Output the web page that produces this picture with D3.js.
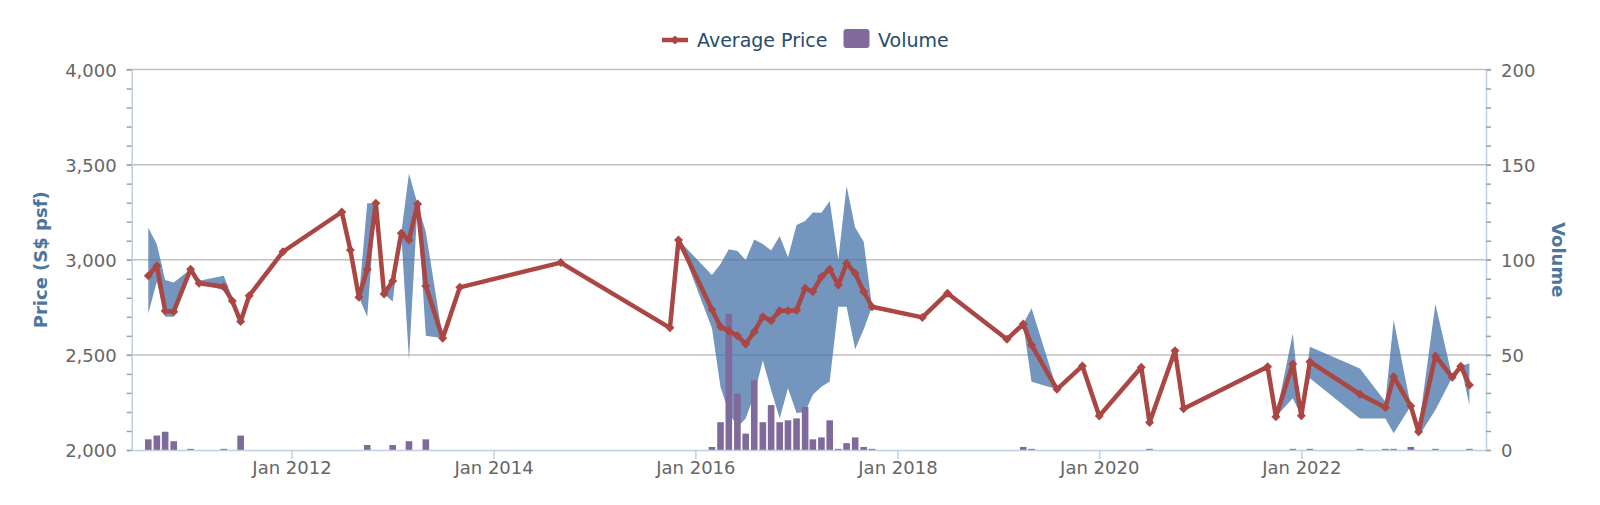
<!DOCTYPE html>
<html>
<head>
<meta charset="utf-8">
<script src="https://cdn.jsdelivr.net/npm/d3@7"></script>
<style>
  body { margin: 0; background: #fff; }
  svg text { font-family: "DejaVu Sans", Verdana, sans-serif; }
</style>
</head>
<body>
<svg id="chart" width="1600" height="505"></svg>
<script>
// Monthly price data (S$ psf)
const priceMonths = [
  "2010-08","2010-09","2010-10","2010-11","2011-01","2011-02","2011-05","2011-06","2011-07","2011-08",
  "2011-12","2012-07","2012-08","2012-09","2012-10","2012-11","2012-12","2013-01","2013-02","2013-03",
  "2013-04","2013-05","2013-07","2013-09","2014-09","2015-10","2015-11","2016-03","2016-04","2016-05",
  "2016-06","2016-07","2016-08","2016-09","2016-10","2016-11","2016-12","2017-01","2017-02","2017-03",
  "2017-04","2017-05","2017-06","2017-07","2017-08","2017-09","2017-10","2018-04","2018-07","2019-02",
  "2019-04","2019-05","2019-08","2019-11","2020-01","2020-06","2020-07","2020-10","2020-11","2021-09",
  "2021-10","2021-12","2022-01","2022-02","2022-08","2022-11","2022-12","2023-02","2023-03","2023-05",
  "2023-07","2023-08","2023-09"
];
const avgPrice = [
  2916,2969,2731,2727,2950,2876,2858,2783,2675,2811,
  3042,3251,3051,2803,2950,3297,2820,2888,3139,3104,
  3293,2862,2587,2855,2985,2642,3104,2739,2648,2625,
  2601,2557,2622,2701,2680,2732,2732,2735,2850,2832,
  2911,2950,2867,2981,2929,2832,2753,2697,2824,2582,
  2662,2552,2319,2442,2179,2435,2144,2522,2217,2438,
  2175,2452,2180,2464,2293,2223,2385,2231,2096,2494,
  2382,2440,2342
];
const lowPrice = [
  2718,2885,2700,2700,2935,2876,2840,2783,2675,2811,
  3042,3251,3051,2803,2700,3297,2820,2780,3139,2473,
  3293,2600,2587,2855,2985,2642,3104,2640,2330,2200,
  2120,2165,2290,2470,2315,2165,2325,2195,2200,2290,
  2333,2360,2753,2753,2530,2635,2753,2697,2824,2582,
  2662,2359,2319,2442,2179,2435,2130,2522,2217,2438,
  2175,2272,2180,2377,2166,2166,2088,2231,2070,2210,
  2382,2440,2237
];
const highPrice = [
  3168,3081,2894,2881,2950,2890,2916,2800,2675,2811,
  3042,3251,3051,2803,3297,3297,2820,2888,3139,3454,
  3293,3147,2587,2855,2985,2642,3104,2920,2978,3055,
  3046,2999,3107,3083,3048,3125,3013,3183,3204,3249,
  3247,3309,2999,3388,3169,3095,2753,2697,2824,2582,
  2662,2745,2319,2442,2179,2435,2144,2522,2217,2438,
  2175,2613,2180,2543,2429,2254,2683,2231,2110,2767,
  2382,2440,2456
];

// Monthly transaction volume
const volumeMonths = [
  "2010-08","2010-09","2010-10","2010-11","2011-01","2011-05","2011-07",
  "2012-10","2013-01","2013-03","2013-05",
  "2016-03","2016-04","2016-05","2016-06","2016-07","2016-08","2016-09","2016-10","2016-11","2016-12",
  "2017-01","2017-02","2017-03","2017-04","2017-05","2017-06","2017-07","2017-08","2017-09","2017-10",
  "2019-04","2019-05","2020-07","2021-12","2022-02","2022-08","2022-11","2022-12","2023-02","2023-05","2023-09"
];
const volumes = [
  6,8,10,5,1,1,8,
  3,3,5,6,
  2,15,72,30,9,37,15,24,15,16,
  17,23,6,7,16,1,4,7,2,1,
  2,1,1,1,1,1,1,1,2,1,1
];

// Axis ticks
const priceTicks = [2000, 2500, 3000, 3500, 4000];
const volumeTicks = [0, 50, 100, 150, 200];
const xTickMonths = ["2012-01","2014-01","2016-01","2018-01","2020-01","2022-01"];

const WIDTH = 1600;
const HEIGHT = 505;
const MARGIN = { left: 131.7, right: 114, top: 69.5, bottom: 55 };
const COLORS = { line: "#AA4643", range: "#4572A7", bar: "#80699B" };

const parseMonth = d3.timeParse("%Y-%m");

const prices = priceMonths.map((m, i) => ({
  date: parseMonth(m), avg: avgPrice[i], low: lowPrice[i], high: highPrice[i]
}));
const vols = volumeMonths.map((m, i) => ({ date: parseMonth(m), value: volumes[i] }));

const svg = d3.select("#chart");
const plotBottom = HEIGHT - MARGIN.bottom;
const plotRight = WIDTH - MARGIN.right;

// Scales
const x = d3.scaleTime()
  .domain([d3.timeDay.offset(prices[0].date, -60), d3.timeDay.offset(prices[prices.length - 1].date, 60)])
  .range([MARGIN.left, plotRight]);

const y = d3.scaleLinear()
  .domain([priceTicks[0], priceTicks[priceTicks.length - 1]])
  .range([plotBottom, MARGIN.top]);

const yVol = d3.scaleLinear()
  .domain([volumeTicks[0], volumeTicks[volumeTicks.length - 1]])
  .range([plotBottom, MARGIN.top]);

// Grid lines
svg.append("g").attr("class", "grid")
  .selectAll("line")
  .data(priceTicks.slice(1))
  .join("line")
    .attr("x1", MARGIN.left - 5)
    .attr("x2", plotRight + 5)
    .attr("y1", d => y(d))
    .attr("y2", d => y(d))
    .attr("stroke", "#C0C0C0")
    .attr("stroke-width", 1.5);

// Minor ticks on both value axes
const minorLeft = svg.append("g")
  .attr("transform", `translate(${MARGIN.left},0)`)
  .call(d3.axisLeft(y).ticks(20).tickSize(5).tickFormat(""));
const minorRight = svg.append("g")
  .attr("transform", `translate(${plotRight},0)`)
  .call(d3.axisRight(yVol).ticks(20).tickSize(5).tickFormat(""));
for (const g of [minorLeft, minorRight]) {
  g.select(".domain").attr("stroke", "#C0D0E0").attr("stroke-width", 1.5);
  g.selectAll(".tick line").attr("stroke", "#A0A0A0").attr("stroke-width", 1.5);
}

// Price range area
svg.append("path")
  .datum(prices)
  .attr("fill", COLORS.range)
  .attr("fill-opacity", 0.75)
  .attr("d", d3.area()
    .x(d => x(d.date))
    .y0(d => y(d.low))
    .y1(d => y(d.high)));

// Volume bars
const barWidth = 6.6;
svg.append("g")
  .selectAll("rect")
  .data(vols)
  .join("rect")
    .attr("x", d => x(d.date) - barWidth / 2)
    .attr("y", d => yVol(d.value) + 0.75)
    .attr("width", barWidth)
    .attr("height", d => Math.max(0.8, yVol(0) - yVol(d.value) - 0.75))
    .attr("fill", COLORS.bar);

// Average price line
svg.append("path")
  .datum(prices)
  .attr("fill", "none")
  .attr("stroke", COLORS.line)
  .attr("stroke-width", 4.5)
  .attr("stroke-linejoin", "round")
  .attr("d", d3.line().x(d => x(d.date)).y(d => y(d.avg)));

// Diamond markers
const diamond = {
  draw(context, size) {
    const r = Math.sqrt(size) / 2;
    context.moveTo(0, -r);
    context.lineTo(r, 0);
    context.lineTo(0, r);
    context.lineTo(-r, 0);
    context.closePath();
  }
};
svg.append("g")
  .selectAll("path")
  .data(prices)
  .join("path")
    .attr("transform", d => `translate(${x(d.date)},${y(d.avg)})`)
    .attr("d", d3.symbol(diamond, 81))
    .attr("fill", COLORS.line);

// X axis
const xAxis = svg.append("g")
  .attr("transform", `translate(0,${plotBottom})`)
  .call(d3.axisBottom(x)
    .tickValues(xTickMonths.map(parseMonth))
    .tickFormat(d3.timeFormat("%b %Y"))
    .tickSize(9)
    .tickSizeOuter(0)
    .tickPadding(2.5));
xAxis.select(".domain").attr("stroke", "#C0D0E0").attr("stroke-width", 1.5);
xAxis.selectAll(".tick line").attr("stroke", "#C0D0E0").attr("stroke-width", 1.5);
xAxis.selectAll("text").attr("fill", "#666").style("font-size", "18px");

// Value axis labels
const yLabels = svg.append("g")
  .attr("transform", `translate(${MARGIN.left},0)`)
  .call(d3.axisLeft(y).tickValues(priceTicks).tickFormat(d3.format(",")).tickSize(0).tickPadding(15));
const vLabels = svg.append("g")
  .attr("transform", `translate(${plotRight},0)`)
  .call(d3.axisRight(yVol).tickValues(volumeTicks).tickSize(0).tickPadding(15));
for (const g of [yLabels, vLabels]) {
  g.select(".domain").remove();
  g.selectAll("text").attr("fill", "#666").attr("dy", "0.38em").style("font-size", "18px");
}

// Axis titles
const midY = (MARGIN.top + plotBottom) / 2;
svg.append("text")
  .attr("transform", `translate(41,${midY}) rotate(-90)`)
  .attr("text-anchor", "middle")
  .attr("dy", "0.35em")
  .attr("fill", "#4d759e")
  .style("font-size", "18px")
  .style("font-weight", "bold")
  .text("Price (S$ psf)");
svg.append("text")
  .attr("transform", `translate(1558,${midY}) rotate(90)`)
  .attr("text-anchor", "middle")
  .attr("dy", "0.35em")
  .attr("fill", "#4d759e")
  .style("font-size", "18px")
  .style("font-weight", "bold")
  .text("Volume");

// Legend
const legend = svg.append("g").attr("transform", "translate(662,40)");
legend.append("line")
  .attr("x1", 0).attr("x2", 26).attr("y1", 0).attr("y2", 0)
  .attr("stroke", COLORS.line).attr("stroke-width", 4.5);
legend.append("path")
  .attr("transform", "translate(13,0)")
  .attr("d", d3.symbol(diamond, 81))
  .attr("fill", COLORS.line);
legend.append("text")
  .attr("x", 35).attr("y", 6.9)
  .attr("fill", "#274b6d")
  .style("font-size", "19px")
  .text("Average Price");
legend.append("rect")
  .attr("x", 181.5).attr("y", -11).attr("width", 26).attr("height", 19).attr("rx", 3)
  .attr("fill", COLORS.bar);
legend.append("text")
  .attr("x", 216).attr("y", 6.9)
  .attr("fill", "#274b6d")
  .style("font-size", "19px")
  .text("Volume");
</script>
</body>
</html>
